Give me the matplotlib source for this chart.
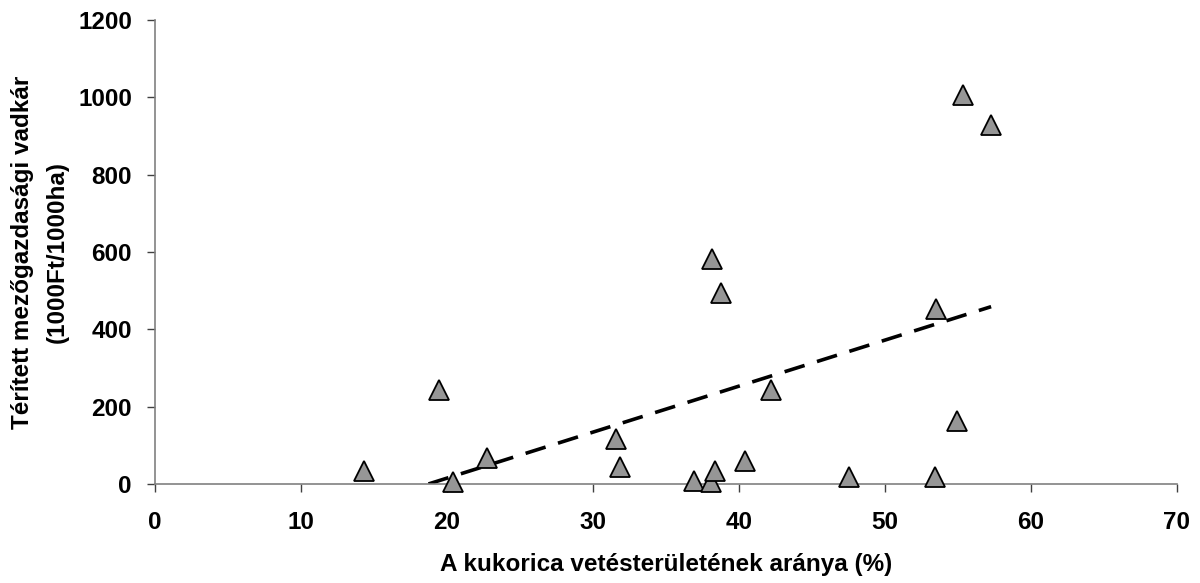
import numpy as np
import matplotlib
matplotlib.use("Agg")
import matplotlib.pyplot as plt

plt.rcParams['font.family'] = ['Liberation Sans', 'DejaVu Sans']
plt.rcParams['font.weight'] = 'bold'

# kukorica vetésterület aránya (%) és térített vadkár (1000Ft/1000ha)
kukorica = [14.31, 19.47, 20.41, 22.76, 31.62, 31.85, 36.96, 38.08, 38.38,
            38.18, 38.81, 40.41, 42.21, 47.58, 53.45, 53.53, 54.93, 55.36, 57.28]
vadkar = [33, 243, 5, 68, 117, 44, 7, 5, 33,
          581, 493, 58, 243, 17, 17, 452, 162, 1006, 928]

x_ticks = [0, 10, 20, 30, 40, 50, 60, 70]
y_ticks = [0, 200, 400, 600, 800, 1000, 1200]

fig = plt.figure(figsize=(12, 5.83), dpi=100)
ax = fig.add_axes([0.129, 0.17, 0.8517, 0.7957])

x = np.array(kukorica)
y = np.array(vadkar)

# lineáris trendvonal az adatokból
slope, intercept = np.polyfit(x, y, 1)
xs = np.array([x.min(), x.max()])
ax.plot(xs, slope * xs + intercept, color='black', linewidth=2.6,
        linestyle=(0, (5.8, 3.6)), zorder=2)

ax.plot(x, y, linestyle='none', marker='^', markersize=14.5,
        markerfacecolor='#969696', markeredgecolor='black',
        markeredgewidth=1.3, zorder=3, clip_on=False)

ax.set_xlim(0, 70)
ax.set_ylim(0, 1200)
ax.set_xticks(x_ticks)
ax.set_yticks(y_ticks)

for side in ['top', 'right']:
    ax.spines[side].set_visible(False)
for side in ['left', 'bottom']:
    ax.spines[side].set_color('#808080')
    ax.spines[side].set_linewidth(1.2)

ax.tick_params(axis='both', direction='out', length=5.5, width=1,
               color='#404040', labelsize=17.5)
ax.tick_params(axis='x', pad=14)
ax.tick_params(axis='y', pad=11)

ax.set_xlabel('A kukorica vetésterületének aránya (%)', fontsize=17.5,
              fontweight='bold', labelpad=14)
ax.set_ylabel('Térített mezőgazdasági vadkár\n(1000Ft/1000ha)', fontsize=17.5,
              fontweight='bold', labelpad=7, linespacing=1.6)

fig.savefig('out.png', dpi=100, facecolor='white')
